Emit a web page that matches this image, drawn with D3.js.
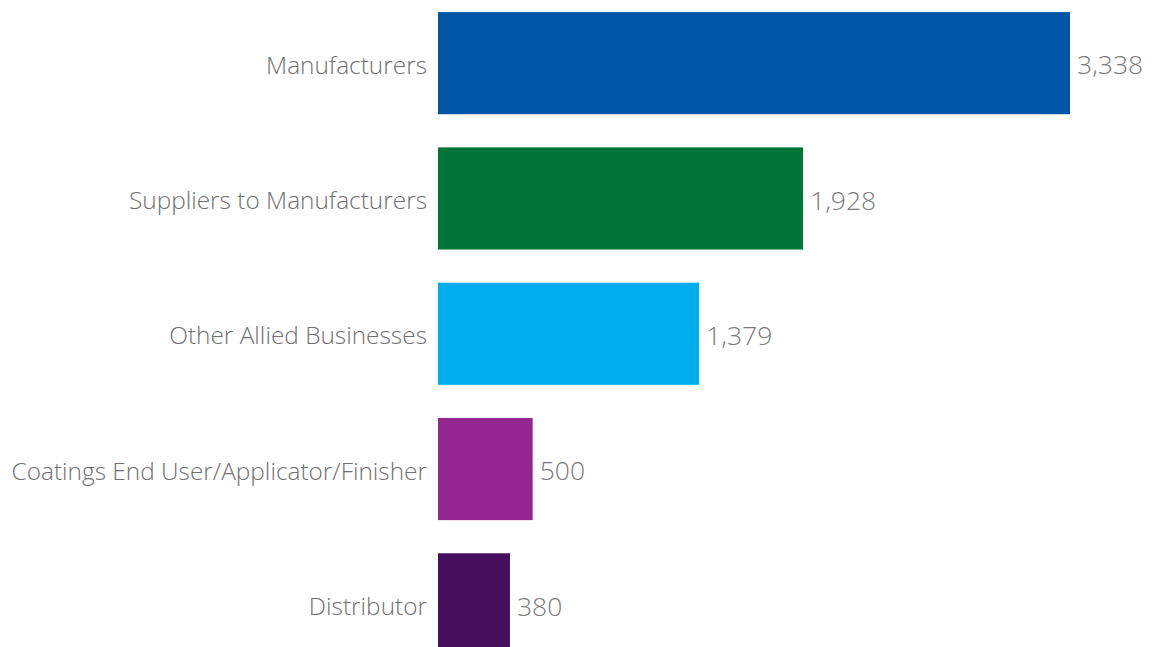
<!DOCTYPE html>
<html>
<head>
<meta charset="utf-8">
<script src="https://cdn.jsdelivr.net/npm/d3@7"></script>
<style>
  body { margin: 0; background: #fff; }
  text { font-family: "Open Sans", sans-serif; font-weight: 300; }
</style>
</head>
<body>
<div id="chart"></div>
<script>
// member categories and counts
var categories = ["Manufacturers", "Suppliers to Manufacturers", "Other Allied Businesses",
  "Coatings End User/Applicator/Finisher", "Distributor"];
var counts = [3338, 1928, 1379, 500, 380];
var colors = ["#0055a6", "#007537", "#00aeef", "#93278f", "#460f5e"];

var width = 1162, height = 647;
var x0 = 438;

var svg = d3.select("#chart").append("svg")
  .attr("width", width)
  .attr("height", height);

var x = d3.scaleLinear().domain([0, 3338]).range([0, 632]);
var y = d3.scaleBand()
  .domain(categories)
  .range([-4.5, 672])
  .paddingInner(0.245)
  .paddingOuter(0.1225);

var data = categories.map(function(c, i) { return {cat: c, v: counts[i], col: colors[i]}; });

var g = svg.selectAll("g.row")
  .data(data)
  .enter()
  .append("g")
  .attr("class", "row");

g.append("rect")
  .attr("x", x0)
  .attr("y", function(d) { return y(d.cat); })
  .attr("width", function(d) { return x(d.v); })
  .attr("height", y.bandwidth())
  .attr("fill", function(d) { return d.col; });

g.append("text")
  .attr("x", x0 - 11)
  .attr("y", function(d) { return y(d.cat) + y.bandwidth() / 2 + 2; })
  .attr("dy", "0.35em")
  .attr("text-anchor", "end")
  .attr("font-size", "24.4px")
  .attr("fill", "#707070")
  .text(function(d) { return d.cat; });

g.append("text")
  .attr("x", function(d) { return x0 + x(d.v) + 7; })
  .attr("y", function(d) { return y(d.cat) + y.bandwidth() / 2 + 2; })
  .attr("dy", "0.35em")
  .attr("font-size", "26.5px")
  .attr("fill", "#7a7a7a")
  .text(function(d) { return d3.format(",")(d.v); });
</script>
</body>
</html>
